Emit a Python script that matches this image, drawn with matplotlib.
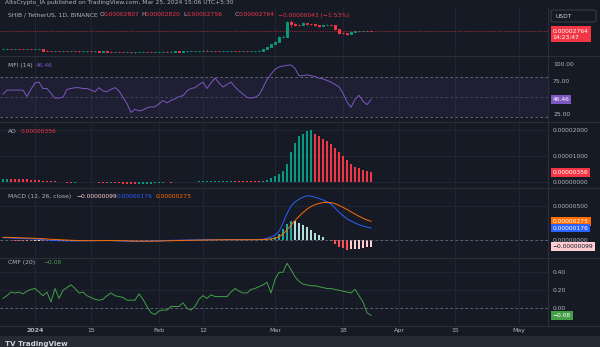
import numpy as np
import pandas as pd
import matplotlib
matplotlib.use("Agg")
import matplotlib.pyplot as plt
import matplotlib.dates as mdates
from matplotlib.patches import Rectangle, FancyBboxPatch

# daily bars, 24 Dec 2023 .. 25 Mar 2024
dates = pd.date_range("2023-12-24", "2024-03-25", freq="D")

# SHIB / USDT, prices in units of 1e-5
first_open_e5 = 1.06
close_e5 = [1.07, 1.08, 1.07, 1.08, 1.07, 1.06, 1.07, 1.06, 1.07, 1.08,
            0.99, 0.98, 0.97, 0.97, 0.96, 0.97, 0.96, 0.97, 0.96, 0.95,
            0.95, 0.96, 0.95, 0.95, 0.94, 0.95, 0.94, 0.93, 0.93, 0.92,
            0.91, 0.92, 0.90, 0.91, 0.92, 0.93, 0.92, 0.91, 0.92, 0.93,
            0.94, 0.93, 0.94, 0.95, 0.94, 0.95, 0.96, 0.97, 0.97, 0.98,
            0.99, 0.98, 0.98, 0.97, 0.96, 0.97, 0.97, 0.98, 0.97, 0.96,
            0.97, 0.96, 0.97, 0.98, 0.99, 1.06, 1.19, 1.36, 1.58, 1.98,
            2.05, 4.55, 4.00, 3.85, 3.80, 4.25, 3.95, 3.90, 3.75, 3.60,
            3.75, 3.80, 3.70, 3.00, 2.50, 2.45, 2.40, 2.65, 2.72, 2.75,
            2.78, 2.807, 2.764]
high_e5 = [1.09, 1.10, 1.09, 1.10, 1.09, 1.08, 1.09, 1.08, 1.09, 1.10,
           1.09, 1.00, 0.99, 0.99, 0.98, 0.98, 0.98, 0.98, 0.98, 0.97,
           0.96, 0.97, 0.97, 0.96, 0.96, 0.96, 0.96, 0.95, 0.94, 0.94,
           0.93, 0.93, 0.93, 0.92, 0.93, 0.94, 0.94, 0.93, 0.93, 0.94,
           0.95, 0.95, 0.95, 0.96, 0.96, 0.96, 0.97, 0.98, 0.98, 0.99,
           1.00, 1.00, 0.99, 0.99, 0.98, 0.98, 0.98, 0.99, 0.99, 0.98,
           0.98, 0.98, 0.98, 0.99, 1.00, 1.08, 1.22, 1.40, 1.65, 2.10,
           2.25, 4.60, 4.93, 4.15, 4.00, 4.40, 4.30, 4.05, 3.95, 3.80,
           3.85, 3.95, 3.90, 3.75, 3.05, 2.60, 2.52, 2.70, 2.78, 2.80,
           2.82, 2.83, 2.820]
low_e5 = [1.05, 1.05, 1.06, 1.06, 1.06, 1.05, 1.05, 1.05, 1.05, 1.06,
          0.97, 0.97, 0.96, 0.96, 0.95, 0.95, 0.95, 0.95, 0.95, 0.94,
          0.94, 0.94, 0.94, 0.94, 0.93, 0.93, 0.93, 0.92, 0.92, 0.91,
          0.90, 0.90, 0.89, 0.89, 0.90, 0.91, 0.91, 0.90, 0.90, 0.91,
          0.92, 0.92, 0.92, 0.93, 0.93, 0.93, 0.94, 0.95, 0.96, 0.96,
          0.97, 0.97, 0.97, 0.96, 0.95, 0.95, 0.96, 0.96, 0.96, 0.95,
          0.95, 0.95, 0.95, 0.96, 0.97, 0.98, 1.05, 1.17, 1.34, 1.55,
          1.92, 2.00, 3.40, 3.60, 3.65, 3.70, 3.85, 3.75, 3.65, 3.50,
          3.55, 3.70, 3.55, 2.85, 2.40, 2.35, 2.30, 2.38, 2.58, 2.65,
          2.70, 2.74, 2.756]

mfi = [54.8, 60.8, 60.8, 60.8, 60.8, 60.8, 51.2, 62.0, 71.6, 72.8,
       63.2, 63.2, 56.0, 48.8, 48.8, 50.0, 62.0, 63.2, 64.4, 64.4,
       63.2, 63.2, 60.8, 58.4, 64.4, 59.6, 58.4, 62.0, 64.4, 59.6,
       50.0, 40.4, 27.2, 32.0, 29.6, 30.8, 34.4, 35.6, 35.6, 40.4,
       45.2, 41.6, 45.2, 47.6, 51.2, 52.4, 59.6, 63.2, 64.4, 69.2,
       72.8, 63.2, 71.6, 78.8, 71.6, 65.6, 69.2, 72.8, 65.6, 59.6,
       54.8, 50.0, 48.8, 50.0, 53.6, 64.4, 76.4, 84.8, 92.0, 95.6,
       96.8, 98.0, 98.5, 93.2, 82.4, 82.4, 83.6, 82.4, 81.2, 78.8,
       77.6, 75.2, 72.8, 69.2, 65.6, 56.0, 43.0, 35.0, 47.0, 53.0,
       44.0, 39.0, 46.46]

# awesome oscillator, units of 1e-6
ao_e6 = [1.0, 1.2, 1.15, 1.1, 1.05, 1.0, 0.9, 0.7, 0.6, 0.5,
         0.4, 0.3, 0.2, 0.1, -0.1, -0.3, -0.45, -0.5, -0.4, -0.3,
         -0.2, -0.1, -0.05, -0.2, -0.35, -0.45, -0.5, -0.4, -0.45, -0.6,
         -0.75, -0.9, -1.0, -1.05, -0.95, -0.85, -0.8, -0.7, -0.6, -0.5,
         -0.4, -0.3, -0.35, -0.25, -0.15, -0.1, -0.05, 0.0, 0.05, 0.1,
         0.12, 0.15, 0.18, 0.2, 0.22, 0.25, 0.27, 0.3, 0.28, 0.25,
         0.22, 0.2, 0.15, 0.12, 0.1, 0.3, 0.8, 1.4, 2.2, 3.0,
         4.1, 6.8, 11.4, 14.9, 17.4, 18.5, 19.5, 19.9, 18.3, 17.4,
         16.4, 15.5, 14.5, 13.0, 11.4, 9.9, 8.3, 6.8, 5.7, 5.1,
         4.5, 4.1, 3.56]

# MACD (12, 26, close), units of 1e-6
macd_e6 = [0.35, 0.33, 0.3, 0.27, 0.25, 0.22, 0.2, 0.17, 0.15, 0.12,
           0.05, 0.0, -0.05, -0.08, -0.1, -0.12, -0.13, -0.14, -0.14, -0.13,
           -0.12, -0.1, -0.09, -0.08, -0.07, -0.06, -0.07, -0.09, -0.11, -0.13,
           -0.15, -0.17, -0.19, -0.2, -0.2, -0.19, -0.17, -0.15, -0.13, -0.11,
           -0.09, -0.07, -0.05, -0.04, -0.03, -0.02, -0.01, 0.0, 0.01, 0.02,
           0.03, 0.04, 0.04, 0.05, 0.05, 0.05, 0.05, 0.05, 0.05, 0.05,
           0.05, 0.05, 0.05, 0.06, 0.08, 0.12, 0.25, 0.45, 0.7, 1.3,
           2.5, 3.9, 5.0, 5.6, 6.0, 6.3, 6.5, 6.45, 6.3, 6.1,
           5.9, 5.6, 5.3, 4.7, 4.1, 3.6, 3.1, 2.8, 2.5, 2.25,
           2.05, 1.9, 1.76]
signal_e6 = [0.4, 0.39, 0.37, 0.35, 0.33, 0.31, 0.29, 0.27, 0.25, 0.22,
             0.19, 0.15, 0.11, 0.08, 0.05, 0.02, -0.01, -0.04, -0.06, -0.08,
             -0.09, -0.1, -0.1, -0.1, -0.09, -0.09, -0.08, -0.08, -0.09, -0.1,
             -0.11, -0.12, -0.14, -0.15, -0.16, -0.17, -0.17, -0.17, -0.16, -0.15,
             -0.14, -0.12, -0.11, -0.09, -0.08, -0.06, -0.05, -0.04, -0.03, -0.02,
             -0.01, 0.0, 0.01, 0.02, 0.03, 0.03, 0.04, 0.04, 0.04, 0.04,
             0.04, 0.04, 0.04, 0.05, 0.06, 0.07, 0.1, 0.17, 0.27, 0.47,
             0.88, 1.48, 2.18, 2.86, 3.49, 4.05, 4.54, 4.92, 5.2, 5.38,
             5.5, 5.55, 5.5, 5.35, 5.1, 4.8, 4.5, 4.15, 3.82, 3.5,
             3.2, 2.95, 2.75]

cmf = [0.11, 0.14, 0.18, 0.17, 0.18, 0.16, 0.19, 0.21, 0.22, 0.18,
       0.14, 0.18, 0.07, 0.22, 0.11, 0.20, 0.23, 0.26, 0.22, 0.17,
       0.18, 0.14, 0.12, 0.10, 0.09, 0.10, 0.14, 0.17, 0.14, 0.13,
       0.12, 0.09, 0.09, 0.09, 0.16, 0.10, 0.02, -0.05, -0.07, -0.03,
       -0.02, -0.02, 0.02, 0.02, 0.02, 0.06, 0.00, -0.02, 0.02, 0.10,
       0.14, 0.11, 0.15, 0.13, 0.13, 0.13, 0.13, 0.18, 0.22, 0.19,
       0.17, 0.17, 0.21, 0.22, 0.24, 0.26, 0.29, 0.17, 0.32, 0.40,
       0.40, 0.50, 0.43, 0.35, 0.30, 0.27, 0.26, 0.25, 0.25, 0.24,
       0.23, 0.22, 0.22, 0.21, 0.20, 0.19, 0.18, 0.17, 0.21, 0.14,
       0.07, -0.05, -0.08]

tick_dates = ["2024-01-01", "2024-01-15", "2024-02-01", "2024-02-12", "2024-03-01",
              "2024-03-18", "2024-04-01", "2024-04-15", "2024-05-01"]
tick_labels = ["2024", "15", "Feb", "12", "Mar", "18", "Apr", "15", "May"]

BG = "#161a25"
GRID = "#222633"
SEP = "#2a2e39"
TEXT = "#b2b5be"
UP = "#089981"
DOWN = "#f23645"

W, H = 600, 347
FS = 4.3
fig = plt.figure(figsize=(W / 100, H / 100), dpi=100, facecolor=BG)

x = mdates.date2num(dates)
x_left = x[0] - 0.75
x_right = x[0] + 136.25
tick_x = mdates.date2num(pd.to_datetime(tick_dates))


def px(xp, yp):
    return xp / W, 1 - yp / H


def pane(top, bottom):
    ax = fig.add_axes([0, 1 - bottom / H, 548 / W, (bottom - top) / H])
    ax.set_facecolor(BG)
    for s in ax.spines.values():
        s.set_visible(False)
    ax.spines["right"].set_visible(True)
    ax.spines["right"].set_color(SEP)
    ax.spines["right"].set_linewidth(0.8)
    ax.set_xlim(x_left, x_right)
    ax.set_xticks(tick_x)
    ax.grid(axis="x", color=GRID, lw=0.7)
    ax.set_axisbelow(True)
    ax.yaxis.tick_right()
    ax.tick_params(axis="x", length=0, labelbottom=False)
    ax.tick_params(axis="y", length=0, pad=3.6, labelsize=FS, labelcolor=TEXT)
    return ax


def badge(ax, v, s, fc, tc="white"):
    ax.annotate(s, xy=(1, v), xycoords=ax.get_yaxis_transform(), xytext=(3.4, 0),
                textcoords="offset points", ha="left", va="center", fontsize=FS,
                color=tc, annotation_clip=False,
                bbox=dict(boxstyle="square,pad=0.3", fc=fc, ec="none"))


def legend(y, parts):
    for xp, s, c in parts:
        fig.text(*px(xp, y), s, fontsize=FS, color=c, va="center", ha="left")


# ---- price pane ----
close = np.array(close_e5)
opens = np.concatenate([[first_open_e5], close[:-1]])
cols = [UP if c >= o else DOWN for o, c in zip(opens, close)]
ax1 = pane(8, 55)
ax1.set_yscale("log")
ax1.set_ylim(0.782, 9.28)
ax1.set_yticks([])
ax1.set_yticks([], minor=True)
ax1.vlines(x, low_e5, high_e5, color=cols, lw=0.5)
ax1.bar(x, np.abs(close - opens), bottom=np.minimum(opens, close), width=0.62,
        color=cols, edgecolor=cols, lw=0.7)
ax1.axhline(close[-1], color=DOWN, lw=0.5, ls=(0, (1, 1.5)))
ax1.annotate("0.00002764\n14:23:47", xy=(1, close[-1]), xycoords=ax1.get_yaxis_transform(),
             xytext=(3.4, -2.2), textcoords="offset points", ha="left", va="center",
             fontsize=FS, color="white", linespacing=1.25, annotation_clip=False,
             bbox=dict(boxstyle="square,pad=0.35", fc=DOWN, ec="none"))
legend(15, [(8, "SHIB / TetherUS, 1D, BINANCE", TEXT),
            (100, "O", TEXT), (104, "0.00002807", DOWN),
            (141, "H", TEXT), (145, "0.00002820", DOWN),
            (183, "L", TEXT), (187, "0.00002756", DOWN),
            (235, "C", TEXT), (239, "0.00002764", DOWN),
            (278, "\u22120.00000043 (\u22121.53%)", DOWN)])
fig.add_artist(FancyBboxPatch(px(551, 22), 45 / W, 12 / H, boxstyle="round,pad=0,rounding_size=0.004",
                              transform=fig.transFigure, fc=BG, ec="#434651", lw=0.6))
fig.text(*px(555, 16), "USDT", fontsize=FS, color="#d1d4dc", va="center")

# ---- MFI pane ----
ax2 = pane(56, 121)
ax2.set_ylim(14.45, 111.95)
ax2.set_yticks([25, 75, 100])
ax2.set_yticklabels(["25.00", "75.00", "100.00"])
ax2.axhspan(20, 80, color="#7e57c2", alpha=0.09, lw=0)
for lvl, a in [(80, 0.9), (50, 0.5), (20, 0.9)]:
    ax2.axhline(lvl, color="#787b86", lw=0.6, ls=(0, (3, 3)), alpha=a)
ax2.plot(x, mfi, color="#7e57c2", lw=0.7)
badge(ax2, mfi[-1], "46.46", "#7e57c2")
legend(65.7, [(8, "MFI (14)", TEXT), (36, "46.46", "#7e57c2")])

# ---- AO pane ----
ao = np.array(ao_e6)
ao_cols = [UP] + [UP if b >= a else DOWN for a, b in zip(ao[:-1], ao[1:])]
ax3 = pane(122, 187)
ax3.set_ylim(-2.04, 22.96)
ax3.set_yticks([0, 10, 20])
ax3.set_yticklabels(["0.00000000", "0.00001000", "0.00002000"])
ax3.grid(axis="y", color=GRID, lw=0.7)
ax3.bar(x, ao, width=0.72, color=ao_cols, lw=0)
badge(ax3, ao[-1], "0.00000356", DOWN)
legend(131.7, [(8, "AO", TEXT), (21, "0.00000356", DOWN)])

# ---- MACD pane ----
macd = np.array(macd_e6)
sig = np.array(signal_e6)
hist = macd - sig
prev = np.concatenate([[hist[0]], hist[:-1]])
h_cols = []
for h, p in zip(hist, prev):
    if h >= 0:
        h_cols.append("#26a69a" if h >= p else "#b2dfdb")
    else:
        h_cols.append("#ffcdd2" if h >= p else "#ff5252")
ax4 = pane(188, 257)
ax4.set_ylim(-2.5, 7.65)
ax4.set_yticks([0, 5])
ax4.set_yticklabels(["0.00000000", "0.00000500"])
ax4.grid(axis="y", color=GRID, lw=0.7)
ax4.axhline(0, color="#787b86", lw=0.6, ls=(0, (3, 3)), alpha=0.8)
ax4.bar(x, hist, width=0.72, color=h_cols, lw=0)
ax4.plot(x, macd, color="#2962ff", lw=0.7)
ax4.plot(x, sig, color="#ff6d00", lw=0.7)
badge(ax4, sig[-1], "0.00000275", "#ff6d00")
badge(ax4, macd[-1], "0.00000176", "#2962ff")
badge(ax4, hist[-1], "\u22120.00000099", "#ffcdd2", tc="#131722")
legend(196.7, [(8, "MACD (12, 26, close)", TEXT), (76, "\u22120.00000099", "#ffcdd2"),
               (117, "0.00000176", "#2962ff"), (156, "0.00000275", "#ff6d00")])

# ---- CMF pane ----
ax5 = pane(258, 325)
ax5.set_ylim(-0.186, 0.559)
ax5.set_yticks([0, 0.2, 0.4])
ax5.set_yticklabels(["0.00", "0.20", "0.40"])
ax5.grid(axis="y", color=GRID, lw=0.7)
ax5.axhline(0, color="#787b86", lw=0.6, ls=(0, (3, 3)), alpha=0.8)
ax5.plot(x, cmf, color="#43a047", lw=0.7)
badge(ax5, cmf[-1], "\u22120.08", "#43a047")
legend(262.7, [(8, "CMF (20)", TEXT), (43, "\u22120.08", "#43a047")])
ax5.tick_params(axis="x", labelbottom=True, pad=2.2, labelsize=FS + 0.2, labelcolor=TEXT)
ax5.set_xticklabels(tick_labels)
ax5.get_xticklabels()[0].set_fontweight("bold")

# pane separators
for yp in [55.5, 121.5, 187.5, 257.5, 325.5]:
    fig.add_artist(plt.Line2D([0, 1], [1 - yp / H] * 2, color=SEP, lw=0.8,
                              transform=fig.transFigure))

# title strip and bottom strip
fig.text(*px(5, 2.5), "AltsCrypto_IA published on TradingView.com, Mar 25, 2024 15:06 UTC+5:30",
         fontsize=FS, color=TEXT, va="center")
fig.add_artist(Rectangle((0, 0), 1, 11 / H, transform=fig.transFigure, fc="#262a35", ec="none"))
fig.text(*px(5, 344), "TV TradingView", fontsize=FS + 0.8, color="#d1d4dc",
         va="center", fontweight="bold")

fig.savefig("out.png", dpi=100, facecolor=BG)
